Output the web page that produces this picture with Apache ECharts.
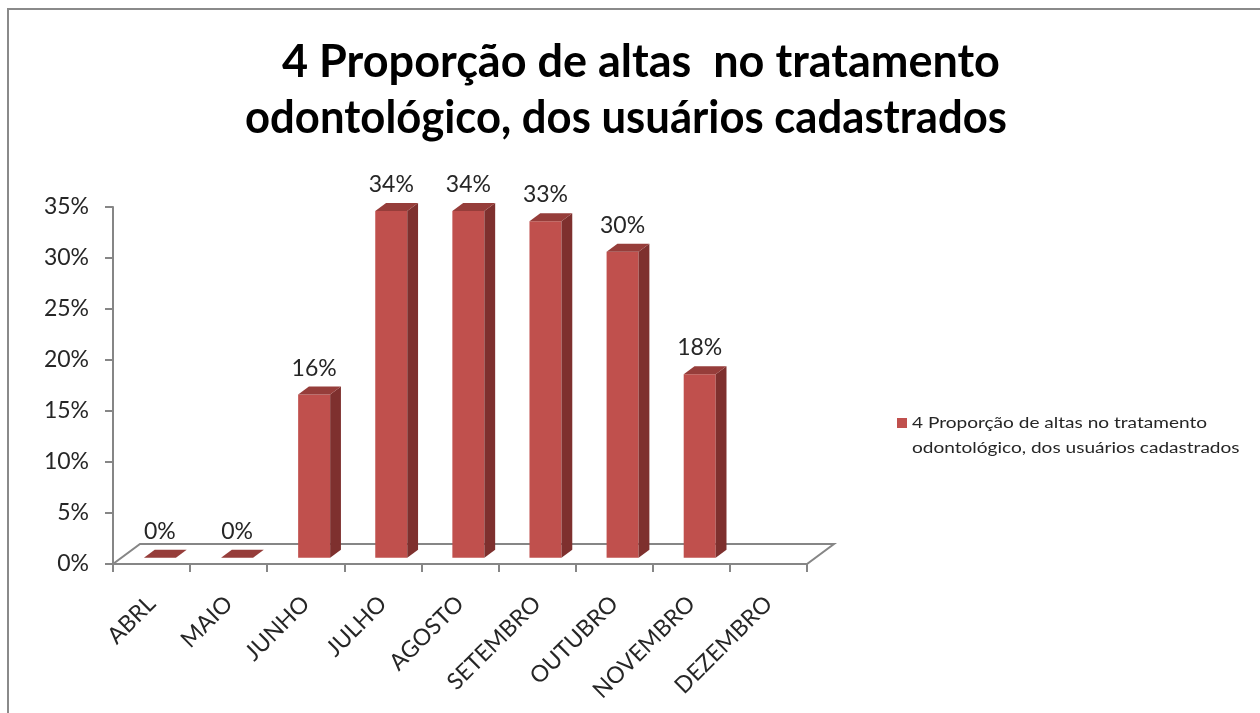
<!DOCTYPE html>
<html>
<head>
<meta charset="utf-8">
<script src="https://cdn.jsdelivr.net/npm/echarts@6/dist/echarts.min.js"></script>
<style>
  html, body { margin: 0; padding: 0; background: #ffffff; }
  #chart { width: 1260px; height: 713px; }
</style>
</head>
<body>
<div id="chart"></div>
<script>
// Monthly categories and the proportion of completed dental treatments (%)
const months = ['ABRL', 'MAIO', 'JUNHO', 'JULHO', 'AGOSTO', 'SETEMBRO', 'OUTUBRO', 'NOVEMBRO', 'DEZEMBRO'];
const proportions = [0, 0, 16, 34, 34, 33, 30, 18, null];
const yTicks = [0, 5, 10, 15, 20, 25, 30, 35];

const seriesName = '4 Proporção de altas no tratamento\nodontológico, dos usuários cadastrados';
const titleLines = ['4 Proporção de altas  no tratamento', 'odontológico, dos usuários cadastrados'];

const FONT = 'Lato';
const FRONT = '#C0504D';
const SIDE = '#7E302E';
const TOP = '#963D3A';
const AXIS = '#868686';

// Depth of the 3D floor relative to one category band
const DEPTH_X = 0.35;
const DEPTH_RATIO = 0.74;

const chart = echarts.init(document.getElementById('chart'), null, { renderer: 'canvas' });

function renderFloor(params, api) {
  const band = api.size([1, 0])[0];
  const left = api.coord([0, 0]);
  const right = api.coord([months.length - 1, 0]);
  const x0 = left[0] - band / 2;
  const x1 = right[0] + band / 2;
  const y = left[1];
  const dx = band * DEPTH_X, dy = dx * DEPTH_RATIO;
  return {
    type: 'polygon',
    shape: { points: [[x0, y], [x1, y], [x1 + dx, y - dy], [x0 + dx, y - dy]] },
    style: { fill: '#ffffff', stroke: AXIS, lineWidth: 2 },
    silent: true
  };
}

function renderBar(params, api) {
  const idx = api.value(0);
  const v = api.value(1);
  if (isNaN(v)) return null;
  const band = api.size([1, 0])[0];
  const base = api.coord([idx, 0]);
  const topPt = api.coord([idx, v]);
  const dX = band * DEPTH_X, dY = dX * DEPTH_RATIO;
  const offX = dX * 0.31, offY = dY * 0.31;
  const fx = base[0] + offX;
  const yBottom = base[1] - offY;
  const yTop = topPt[1] - offY;
  const w = band * 0.415;
  const x0 = fx - w / 2, x1 = fx + w / 2;
  const ox = dX * 0.4, oy = dY * 0.4;
  const children = [];
  if (yBottom - yTop > 0.5) {
    children.push({
      type: 'rect',
      shape: { x: x0, y: yTop, width: w, height: yBottom - yTop },
      style: { fill: FRONT }
    });
    children.push({
      type: 'polygon',
      shape: { points: [[x1, yBottom], [x1 + ox, yBottom - oy], [x1 + ox, yTop - oy], [x1, yTop]] },
      style: { fill: SIDE }
    });
  }
  children.push({
    type: 'polygon',
    shape: { points: [[x0, yTop], [x1, yTop], [x1 + ox, yTop - oy], [x0 + ox, yTop - oy]] },
    style: { fill: TOP }
  });
  children.push({
    type: 'text',
    style: {
      text: v + '%',
      x: fx,
      y: yTop - 15,
      align: 'center',
      verticalAlign: 'bottom',
      fontFamily: FONT,
      fontSize: 23,
      fill: '#262626'
    }
  });
  return { type: 'group', children: children };
}

const barData = [];
proportions.forEach(function (v, i) { if (v !== null) barData.push([i, v]); });

const option = {
  backgroundColor: '#ffffff',
  animation: false,
  graphic: [
    {
      type: 'rect',
      shape: { x: 8, y: 9, width: 1270, height: 720 },
      style: { fill: 'none', stroke: '#8a8a8a', lineWidth: 2 },
      silent: true
    },
    {
      type: 'text',
      x: 641,
      y: 62,
      style: {
        text: titleLines[0],
        align: 'center',
        verticalAlign: 'middle',
        fontFamily: FONT,
        fontWeight: 'bold',
        fontSize: 45,
        fill: '#000000'
      }
    },
    {
      type: 'text',
      x: 626,
      y: 118,
      scaleX: 0.97,
      style: {
        text: titleLines[1],
        align: 'center',
        verticalAlign: 'middle',
        fontFamily: FONT,
        fontWeight: 'bold',
        fontSize: 45,
        fill: '#000000'
      }
    },
    {
      type: 'rect',
      shape: { x: 897, y: 418, width: 10, height: 10 },
      style: { fill: FRONT }
    },
    {
      type: 'text',
      x: 912,
      y: 410,
      scaleX: 1.19,
      style: {
        text: seriesName,
        fontFamily: FONT,
        fontSize: 16,
        lineHeight: 25,
        fill: '#262626'
      }
    }
  ],
  grid: { left: 113, top: 207, width: 694, height: 357, containLabel: false },
  xAxis: {
    type: 'category',
    data: months,
    boundaryGap: true,
    axisLine: { show: true, lineStyle: { color: AXIS, width: 2 } },
    axisTick: { show: true, interval: 0, length: 8, lineStyle: { color: AXIS, width: 2 } },
    axisLabel: {
      interval: 0,
      rotate: 45,
      margin: 36,
      fontFamily: FONT,
      fontSize: 23,
      color: '#262626'
    },
    splitLine: { show: false }
  },
  yAxis: {
    type: 'value',
    min: yTicks[0],
    max: yTicks[yTicks.length - 1],
    interval: 5,
    axisLine: { show: true, lineStyle: { color: AXIS, width: 2 } },
    axisTick: { show: true, length: 8, lineStyle: { color: AXIS, width: 2 } },
    axisLabel: {
      formatter: '{value}%',
      margin: 24,
      fontFamily: FONT,
      fontSize: 23,
      color: '#262626'
    },
    splitLine: { show: false }
  },
  series: [
    {
      type: 'custom',
      name: 'floor',
      data: [[0, 0]],
      renderItem: renderFloor,
      z: 1,
      silent: true
    },
    {
      type: 'custom',
      name: seriesName,
      data: barData,
      renderItem: renderBar,
      z: 3
    }
  ]
};

chart.setOption(option);
</script>
</body>
</html>
